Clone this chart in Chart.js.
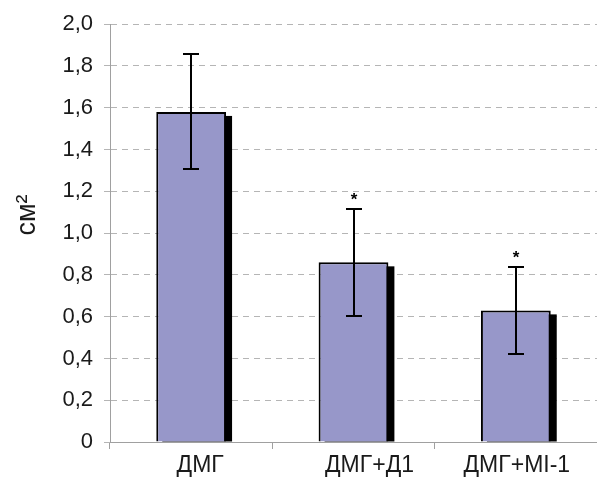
<!DOCTYPE html>
<html><head><meta charset="utf-8">
<script src="https://cdn.jsdelivr.net/npm/chart.js@4/dist/chart.umd.min.js"></script>
<style>html,body{margin:0;padding:0;background:#fff}#wrap{width:597px;height:477px}</style>
</head><body><div id="wrap"><canvas id="c" width="597" height="477"></canvas></div>
<script>
const categories = ['ДМГ', 'ДМГ+Д1', 'ДМГ+MI-1'];
const means = [1.58, 0.86, 0.63];
const errors = [0.275, 0.255, 0.21];
const significant = [false, true, true];
const yMin = 0, yMax = 2.0, yStep = 0.2;
const yTitle = 'см²';

const FONT = '"Liberation Sans", Arial, sans-serif';

const shadowPlugin = {
  id: 'shadow',
  beforeDatasetsDraw(chart) {
    const ctx = chart.ctx;
    const meta = chart.getDatasetMeta(0);
    ctx.save();
    ctx.fillStyle = '#000';
    meta.data.forEach(bar => {
      const w = bar.width;
      ctx.fillRect(bar.x - w / 2 + 6, bar.y + 4, w, bar.base - bar.y - 4);
    });
    ctx.restore();
  }
};

const errPlugin = {
  id: 'errbars',
  afterDatasetsDraw(chart) {
    const ctx = chart.ctx;
    const y = chart.scales.y;
    const meta = chart.getDatasetMeta(0);
    ctx.save();
    ctx.strokeStyle = '#000';
    ctx.lineWidth = 2;
    meta.data.forEach((bar, i) => {
      const top = Math.round(y.getPixelForValue(means[i] + errors[i]));
      const bot = Math.round(y.getPixelForValue(means[i] - errors[i]));
      const x = Math.round(bar.x);
      ctx.beginPath();
      ctx.moveTo(x, top); ctx.lineTo(x, bot);
      ctx.moveTo(x - 8, top); ctx.lineTo(x + 8, top);
      ctx.moveTo(x - 8, bot); ctx.lineTo(x + 8, bot);
      ctx.stroke();
      if (significant[i]) {
        ctx.fillStyle = '#000';
        ctx.font = 'bold 17px ' + FONT;
        ctx.textAlign = 'center';
        ctx.textBaseline = 'middle';
        ctx.fillText('*', x, top - 9);
      }
    });
    ctx.restore();
  },
  afterDraw(chart) {
    const ctx = chart.ctx;
    const xs = chart.scales.x;
    const shift = [9, 16, 1];
    ctx.save();
    ctx.fillStyle = '#1a1a1a';
    ctx.font = '23px ' + FONT;
    ctx.textAlign = 'center';
    ctx.textBaseline = 'alphabetic';
    categories.forEach((c, i) => {
      ctx.fillText(c, xs.getPixelForValue(i) + shift[i], 472);
    });
    // y-axis title
    ctx.translate(35, 215);
    ctx.rotate(-Math.PI / 2);
    ctx.font = '27px ' + FONT;
    ctx.textBaseline = 'alphabetic';
    ctx.fillText(yTitle, 0, 0);
    ctx.restore();
  }
};

new Chart(document.getElementById('c'), {
  type: 'bar',
  data: {
    labels: categories,
    datasets: [{
      data: means,
      backgroundColor: 'rgb(151,151,201)',
      borderColor: '#000',
      borderWidth: 2,
      barPercentage: 0.86,
      categoryPercentage: 0.5
    }]
  },
  options: {
    responsive: false,
    animation: false,
    devicePixelRatio: 1,
    layout: { padding: { top: 21, left: 0, right: 0, bottom: 0 } },
    plugins: { legend: { display: false }, tooltip: { enabled: false } },
    scales: {
      x: {
        afterFit(s) { s.height = 35; },
        grid: { display: true, drawOnChartArea: false, drawTicks: true, tickLength: 7, color: '#a0a0a0', offset: true },
        border: { display: true, color: '#a0a0a0', width: 1 },
        ticks: { display: false }
      },
      y: {
        min: yMin, max: yMax,
        afterFit(s) { s.width = 110; },
        ticks: {
          stepSize: yStep,
          padding: 11,
          color: '#1a1a1a',
          font: { family: FONT, size: 22 },
          callback: v => Math.abs(v) < 1e-9 ? '0' : v.toFixed(1).replace('.', ',')
        },
        grid: { color: '#b5b5b5', tickLength: 6, lineWidth: 1 },
        border: { display: true, color: '#a0a0a0', width: 1, dash: [6, 5] },
        title: { display: false }
      }
    }
  },
  plugins: [shadowPlugin, errPlugin]
});
</script></body></html>
